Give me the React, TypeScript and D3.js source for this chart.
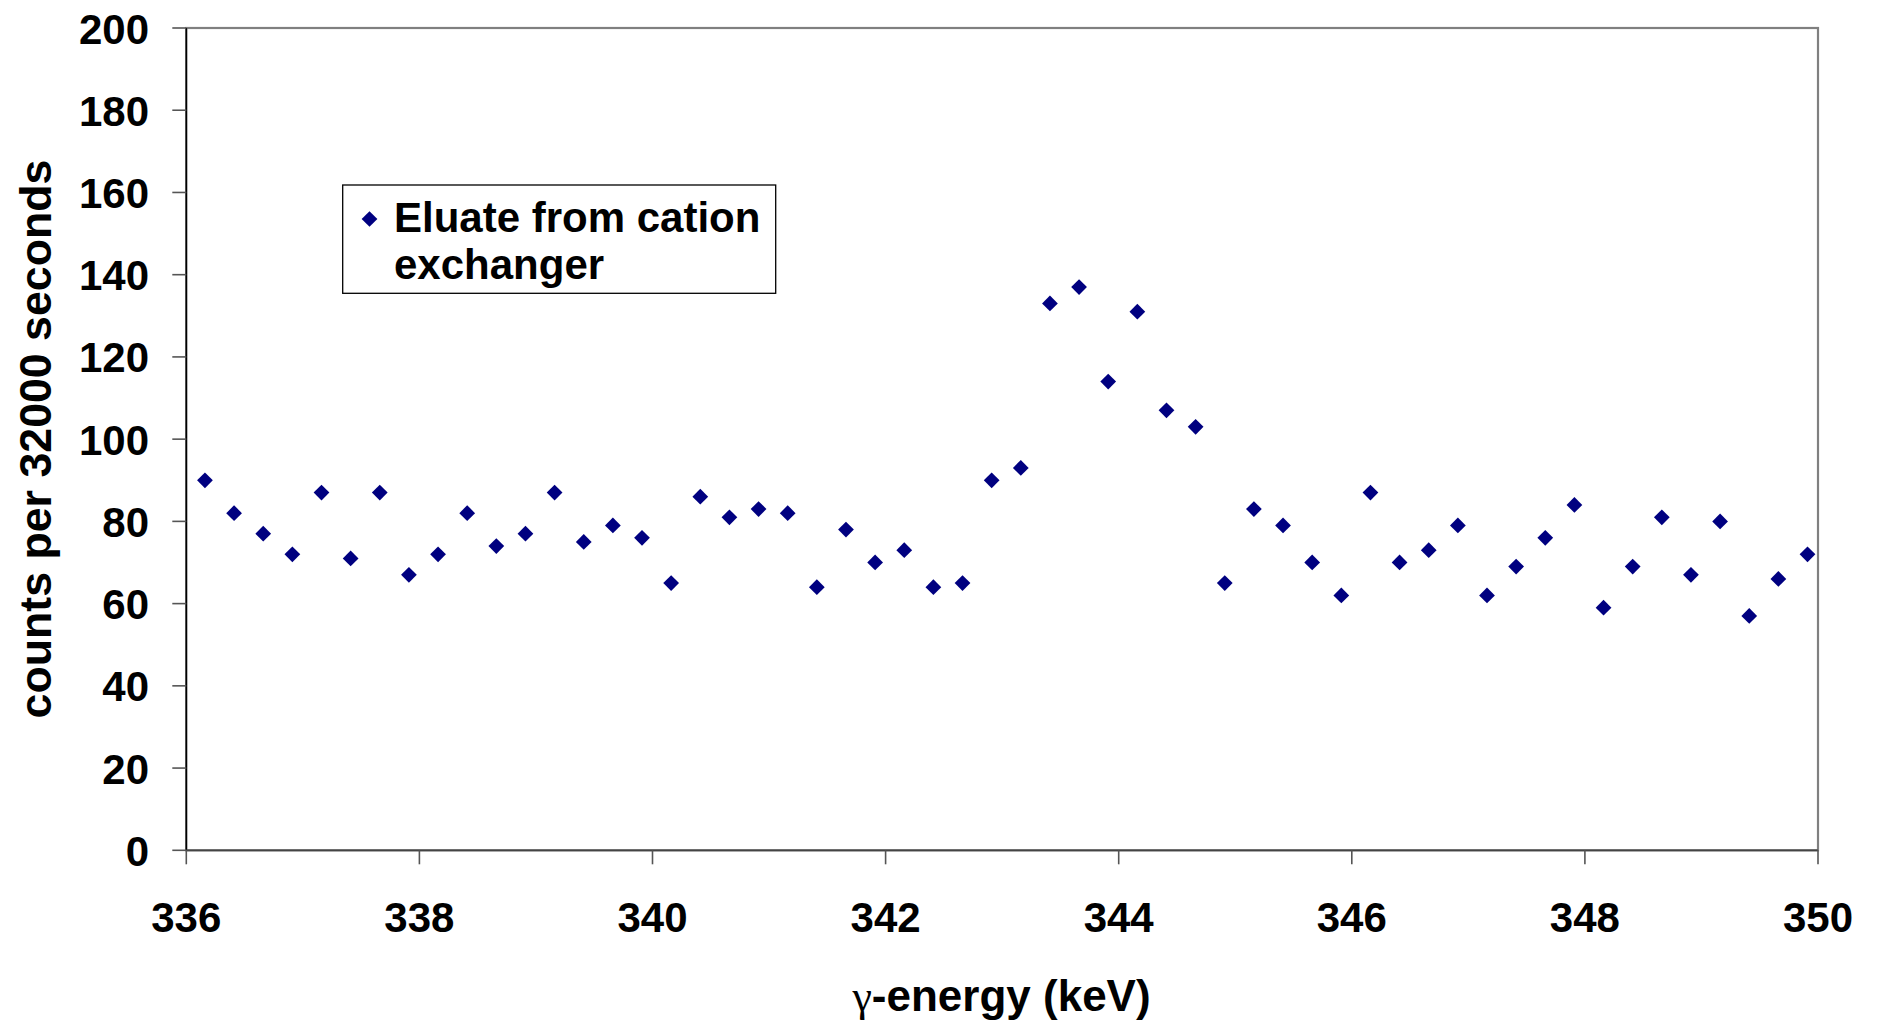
import React from "react";
import * as d3 from "d3";

const energies = [
  336.16, 336.41, 336.66, 336.91, 337.16, 337.41, 337.66, 337.91, 338.16, 338.41,
  338.66, 338.91, 339.16, 339.41, 339.66, 339.91, 340.16, 340.41, 340.66, 340.91,
  341.16, 341.41, 341.66, 341.91, 342.16, 342.41, 342.66, 342.91, 343.16, 343.41,
  343.66, 343.91, 344.16, 344.41, 344.66, 344.91, 345.16, 345.41, 345.66, 345.91,
  346.16, 346.41, 346.66, 346.91, 347.16, 347.41, 347.66, 347.91, 348.16, 348.41,
  348.66, 348.91, 349.16, 349.41, 349.66, 349.91,
];
const counts = [
  90, 82, 77, 72, 87, 71, 87, 67, 72, 82,
  74, 77, 87, 75, 79, 76, 65, 86, 81, 83,
  82, 64, 78, 70, 73, 64, 65, 90, 93, 133,
  137, 114, 131, 107, 103, 65, 83, 79, 70, 62,
  87, 70, 73, 79, 62, 69, 76, 84, 59, 69,
  81, 67, 80, 57, 66, 72,
];
const xTicks = [336, 338, 340, 342, 344, 346, 348, 350];
const yTicks = [0, 20, 40, 60, 80, 100, 120, 140, 160, 180, 200];
const seriesName = ["Eluate from cation", "exchanger"];
const xTitle = "-energy (keV)";
const yTitle = "counts per 32000 seconds";

const W = 1879;
const H = 1022;
const L = 186.3, R = 1818, T = 28, B = 850.3;
const FONT = "'Liberation Sans', Arial, sans-serif";
const NAVY = "#000080";

export default function App() {
  const x = d3.scaleLinear().domain([336, 350]).range([L, R]);
  const y = d3.scaleLinear().domain([0, 200]).range([B, T]);
  const diamond = d3.symbol().type(d3.symbolSquare).size(124)() as string;

  return (
    <svg width={W} height={H} style={{ position: "absolute", left: 0, top: 0, background: "#fff" }}>
      <rect x={0} y={0} width={W} height={H} fill="#fff" />
      {/* plot border */}
      <rect x={L} y={T} width={R - L} height={B - T} fill="none" stroke="#808080" strokeWidth={2.2} />
      {/* y axis */}
      <line x1={L} y1={T} x2={L} y2={B} stroke="#000" strokeWidth={1.6} />
      {yTicks.map((t) => (
        <g key={"y" + t}>
          <line x1={L - 14} x2={L} y1={y(t)} y2={y(t)} stroke="#555" strokeWidth={1.6} />
          <text x={149} y={y(t) + 15.5} textAnchor="end" fontFamily={FONT} fontWeight="bold" fontSize={42} fill="#000">
            {t}
          </text>
        </g>
      ))}
      {/* x axis */}
      <line x1={L} y1={B} x2={R} y2={B} stroke="#444" strokeWidth={1.8} />
      {xTicks.map((t) => (
        <g key={"x" + t}>
          <line x1={x(t)} x2={x(t)} y1={B} y2={B + 14} stroke="#555" strokeWidth={1.6} />
          <text x={x(t)} y={931.5} textAnchor="middle" fontFamily={FONT} fontWeight="bold" fontSize={42} fill="#000">
            {t}
          </text>
        </g>
      ))}
      {/* points */}
      {energies.map((e, i) => (
        <path key={i} d={diamond} transform={`translate(${x(e)},${y(counts[i])}) rotate(45)`} fill={NAVY} />
      ))}
      {/* legend */}
      <rect x={342.7} y={185} width={433} height={108.3} fill="#fff" stroke="#000" strokeWidth={1.3} />
      <path d={diamond} transform="translate(369.5,219) rotate(45)" fill={NAVY} />
      <text x={394} y={232} fontFamily={FONT} fontWeight="bold" fontSize={42} fill="#000">
        {seriesName[0]}
      </text>
      <text x={394} y={278.5} fontFamily={FONT} fontWeight="bold" fontSize={42} fill="#000">
        {seriesName[1]}
      </text>
      {/* x title */}
      <text x={1001.5} y={1010.5} textAnchor="middle" fontSize={44} fill="#000">
        <tspan fontFamily="'Liberation Serif', 'Times New Roman', serif">γ</tspan>
        <tspan fontFamily={FONT} fontWeight="bold">{xTitle}</tspan>
      </text>
      {/* y title */}
      <text
        transform={`translate(51,439) rotate(-90)`}
        textAnchor="middle"
        fontFamily={FONT}
        fontWeight="bold"
        fontSize={44.7}
        fill="#000"
      >
        {yTitle}
      </text>
    </svg>
  );
}
